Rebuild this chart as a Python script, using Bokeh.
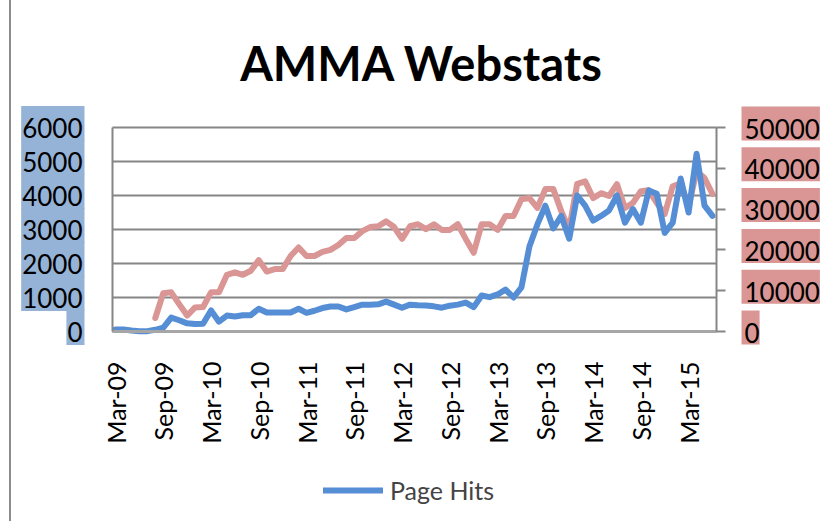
import math
from bokeh.plotting import figure
from bokeh.models import (Range1d, LinearAxis, FixedTicker, Label, Legend,
                          LegendItem, ColumnDataSource)
from bokeh.embed import file_html
from bokeh.resources import INLINE

# ---- data (months since Mar-09) ----
month_index = list(range(76))
page_hits = [60, 60, 30, 10, 10, 50, 110, 410, 330, 240, 220, 230, 620, 290,
             470, 440, 480, 480, 670, 560, 560, 560, 560, 670, 550, 610, 690,
             735, 735, 650, 720, 790, 790, 800, 880, 790, 700, 790, 770, 765,
             740, 700, 760, 790, 850, 715, 1060, 1010, 1090, 1235, 1000, 1300,
             2500, 3150, 3700, 3030, 3400, 2730, 4000, 3700, 3260, 3400, 3560,
             4000, 3200, 3600, 3200, 4150, 4050, 2900, 3200, 4500, 3500, 5230,
             3700, 3400]
nan = float("nan")
second_series = [nan, nan, nan, nan, nan, 3300, 9400, 9600, 6700, 3900, 5900,
                 6000, 9600, 9600, 13900, 14500, 13900, 14900, 17500, 14700,
                 15300, 15300, 18500, 20600, 18500, 18500, 19500, 20000, 21200,
                 22900, 22900, 24600, 25600, 25800, 27000, 25600, 22700, 25800,
                 26300, 25100, 26300, 24900, 24900, 26300, 22700, 19300, 26300,
                 26300, 24900, 28300, 28300, 32400, 32700, 30300, 34900, 34900,
                 29500, 25100, 36200, 36800, 32700, 33900, 33200, 36100, 30300,
                 31500, 34400, 34600, 31500, 28800, 35600, 36300, 30700, 39300,
                 37600, 33700]
x_tick_labels = ["Mar-09", "Sep-09", "Mar-10", "Sep-10", "Mar-11", "Sep-11",
                 "Mar-12", "Sep-12", "Mar-13", "Sep-13", "Mar-14", "Sep-14",
                 "Mar-15"]
left_ticks = [0, 1000, 2000, 3000, 4000, 5000, 6000]
right_ticks = [0, 10000, 20000, 30000, 40000, 50000]

BLUE = "#558ED5"
RED = "#D99694"
BLUE_BOX = "#95B3D7"
GRID = "#868686"
FONT = "Lato"

# ---- layout geometry (page pixels) ----
PAGE_X0 = 11          # left edge of the canvas on the page
FIG_W, FIG_H = 821, 521
FRAME_TOP = 100
PLOT_L, PLOT_R, PLOT_T, PLOT_B = 112, 716, 127, 331
M0_X, PX_MONTH = 115, 7.96


def x_of(px):
    return (px - M0_X) / PX_MONTH


def left_of(py):
    return (PLOT_B - py) * left_ticks[-1] / (PLOT_B - PLOT_T)


def right_of(py):
    return (PLOT_B - py) * right_ticks[-1] / (PLOT_B - PLOT_T)


XL, XR = x_of(PLOT_L), x_of(PLOT_R)
x_tick_pos = [6 * i for i in range(len(x_tick_labels))]

src = ColumnDataSource(dict(m=month_index, hits=page_hits, other=second_series))

p = figure(width=FIG_W, height=FIG_H, output_backend="svg", toolbar_location=None,
           x_range=Range1d(x_of(PAGE_X0), x_of(PAGE_X0 + FIG_W)),
           y_range=Range1d(left_of(FIG_H), left_of(FRAME_TOP)),
           min_border_left=0, min_border_right=0, min_border_top=FRAME_TOP,
           min_border_bottom=0)
p.extra_y_ranges = {"right": Range1d(right_of(FIG_H), right_of(FRAME_TOP))}
p.outline_line_color = None
p.background_fill_color = "white"
p.border_fill_color = "white"

# title
p.title.text = "AMMA Webstats"
p.title.text_font = FONT
p.title.text_font_style = "bold"
p.title.text_font_size = "47px"
p.title.align = "center"
p.title.standoff = 20
p.title.text_color = "black"

# grid lines (from the left tick list, across the plot area)
p.xgrid.visible = False
p.ygrid.visible = False
p.segment(x0=[XL] * len(left_ticks), x1=[XR] * len(left_ticks),
          y0=left_ticks, y1=left_ticks, line_color=GRID, line_width=2)

# bottom axis
xa = p.xaxis[0]
xa.fixed_location = 0
xa.bounds = (XL, XR)
xa.ticker = FixedTicker(ticks=x_tick_pos)
xa.major_label_overrides = {pos: lab for pos, lab in zip(x_tick_pos, x_tick_labels)}
xa.major_label_orientation = math.pi / 2
xa.major_label_standoff = 24
xa.major_label_text_font = FONT
xa.major_label_text_font_size = "25px"
xa.major_label_text_color = "black"
xa.axis_line_color = "#A6A6A6"
xa.axis_line_width = 3
xa.major_tick_line_color = None
xa.minor_tick_line_color = None

# left axis
ya = p.yaxis[0]
ya.fixed_location = XL
ya.bounds = (left_ticks[0], left_ticks[-1])
ya.ticker = FixedTicker(ticks=left_ticks)
ya.axis_line_color = GRID
ya.axis_line_width = 2
ya.major_tick_line_color = None
ya.minor_tick_line_color = None
ya.major_label_text_color = None

# right axis
ra = LinearAxis(y_range_name="right", ticker=FixedTicker(ticks=right_ticks),
                fixed_location=XR, bounds=(right_ticks[0], right_ticks[-1]))
ra.axis_line_color = GRID
ra.axis_line_width = 2
ra.major_tick_line_color = GRID
ra.major_tick_line_width = 2
ra.major_tick_out = 9
ra.major_tick_in = 0
ra.minor_tick_line_color = None
ra.major_label_text_color = None
p.add_layout(ra, "right")


def make_label(pad, **kw):
    try:
        return Label(padding=pad, **kw)
    except Exception:
        return Label(**kw)


# lines
r_other = p.line("m", "other", source=src, y_range_name="right", color=RED,
                 line_width=6, line_cap="round", line_join="round")
r_hits = p.line("m", "hits", source=src, color=BLUE, line_width=6,
                line_cap="round", line_join="round")

# tick labels with coloured boxes
for v in left_ticks:
    p.add_layout(make_label(dict(left=1, right=2, top=12, bottom=3),
                            x=XL, y=v, x_offset=-28, y_offset=4, text=str(v),
                            text_align="right", text_baseline="middle",
                            text_font=FONT, text_font_size="26px",
                            text_color="black", background_fill_color=BLUE_BOX))
for v in right_ticks:
    p.add_layout(make_label(dict(left=3, right=0, top=12, bottom=2),
                            x=XR, y=v, y_range_name="right",
                            x_offset=25, y_offset=4, text=str(v),
                            text_align="left",
                            text_baseline="middle", text_font=FONT,
                            text_font_size="26px", text_color="black",
                            background_fill_color=RED))

legend = Legend(items=[LegendItem(label="Page Hits", renderers=[r_hits])],
                location=(323 - PAGE_X0, 16), margin=0, padding=0,
                glyph_width=60, label_standoff=7,
                label_text_font=FONT, label_text_font_size="25px",
                border_line_color=None, background_fill_alpha=0)
p.add_layout(legend, "center")

try:
    p.styles = {"margin-left": "9px", "border-left": "2px solid #8c8c8c"}
except Exception:
    pass

open("out.html", "w").write(file_html(p, INLINE))
